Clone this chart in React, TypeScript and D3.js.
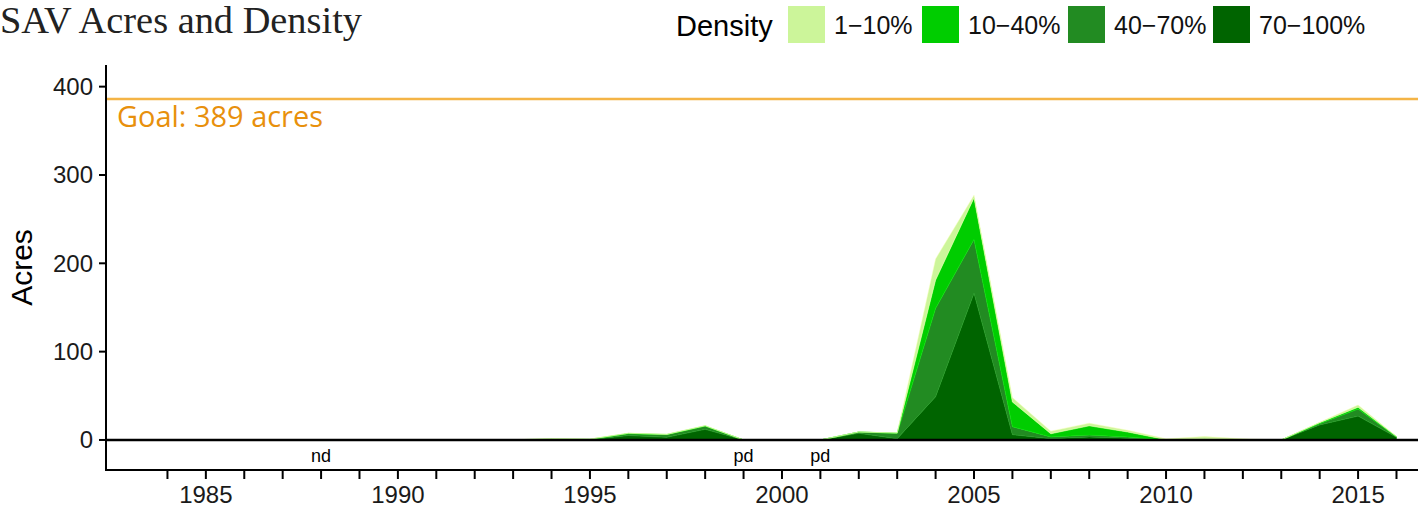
import { useEffect, useRef } from 'react';
import * as d3 from 'd3';

const WIDTH = 1426;
const HEIGHT = 510;

// per-year acres by density class
const years = [
  1984, 1985, 1986, 1987, 1988, 1989, 1990, 1991, 1992, 1993, 1994, 1995, 1996,
  1997, 1998, 1999, 2000, 2001, 2002, 2003, 2004, 2005, 2006, 2007, 2008, 2009,
  2010, 2011, 2012, 2013, 2014, 2015, 2016,
];
const dense70to100 = [
  0, 0, 0, 0, 0, 0, 0, 0, 0, 0, 0.5, 0.3, 5, 3, 12, 0, 0, 0, 7.5, 1.5, 49, 166,
  6, 1.5, 3.5, 2, 0, 0.5, 0, 0, 17, 27, 3,
];
const dense40to70 = [
  0, 0, 0, 0, 0, 0, 0, 0, 0, 0, 0.3, 0.3, 2, 3, 3.5, 0, 0, 0, 1.5, 6, 100, 61, 9,
  2, 2, 1.5, 0, 0.3, 0, 0, 1.5, 8, 0.5,
];
const dense10to40 = [
  0, 0, 0, 0, 0, 0, 0, 0, 0, 0.2, 0.5, 0.3, 0.5, 0.3, 0.5, 0, 0, 0, 0, 0.3, 32,
  47, 28, 3.5, 10.5, 5.5, 0.3, 0.5, 0.3, 0, 1, 2, 0.3,
];
const dense1to10 = [
  0, 0, 0, 0, 0, 0, 0, 0, 0, 0.2, 0.3, 0.2, 0.2, 0.2, 0.3, 0, 0, 0, 0, 0.2, 24,
  3, 5, 3, 3, 2, 1, 2.5, 1, 0, 0.5, 2.5, 0.2,
];

const densityKeys = ['70−100%', '40−70%', '10−40%', '1−10%'];
const densityColors = ['#006400', '#228B22', '#00CD00', '#CCF59A'];
const legendOrder = ['1−10%', '10−40%', '40−70%', '70−100%'];

const notes = [
  { year: 1988, label: 'nd' },
  { year: 1999, label: 'pd' },
  { year: 2001, label: 'pd' },
];

const yTicks = [0, 100, 200, 300, 400];
const xMajorTicks = [1985, 1990, 1995, 2000, 2005, 2010, 2015];
const goalLine = 386;
const goalLabel = 'Goal: 389 acres';

const PLOT = { left: 106, right: 1418, top: 65, bottom: 470 };

export default function App() {
  const svgRef = useRef<SVGSVGElement>(null);

  useEffect(() => {
    if (!svgRef.current) return;
    const svg = d3.select(svgRef.current);
    svg.selectAll('*').remove();

    const x = d3
      .scaleLinear()
      .domain([1982.4, 2016.56])
      .range([PLOT.left, PLOT.right]);
    const y = d3
      .scaleLinear()
      .domain([-34, 424.5])
      .range([PLOT.bottom, PLOT.top]);

    const rows = years.map((yr, i) => ({
      year: yr,
      '70−100%': dense70to100[i],
      '40−70%': dense40to70[i],
      '10−40%': dense10to40[i],
      '1−10%': dense1to10[i],
    }));

    const series = d3.stack<any>().keys(densityKeys)(rows);

    const area = d3
      .area<any>()
      .x((d) => x(d.data.year))
      .y0((d) => y(d[0]))
      .y1((d) => y(d[1]));

    // Stacked areas
    series.forEach((s, i) => {
      const col = densityColors[i];
      svg
        .append('path')
        .datum(s)
        .attr('d', area)
        .attr('fill', col)
        .attr('stroke', d3.color(col)!.brighter(0.5).formatHex())
        .attr('stroke-width', 0.7)
        .attr('stroke-opacity', 0.7);
    });

    // Zero line
    svg
      .append('line')
      .attr('x1', PLOT.left)
      .attr('x2', PLOT.right)
      .attr('y1', y(0))
      .attr('y2', y(0))
      .attr('stroke', '#000')
      .attr('stroke-width', 2.4);

    // Goal line
    svg
      .append('line')
      .attr('x1', PLOT.left)
      .attr('x2', PLOT.right)
      .attr('y1', y(goalLine))
      .attr('y2', y(goalLine))
      .attr('stroke', '#F4B446')
      .attr('stroke-width', 2.6);

    svg
      .append('text')
      .attr('x', 117)
      .attr('y', y(goalLine) + 28)
      .attr('font-family', '"Open Sans", sans-serif')
      .attr('font-size', 29)
      .attr('fill', '#E8900C')
      .attr('textLength', 206)
      .attr('lengthAdjust', 'spacingAndGlyphs')
      .text(goalLabel);

    // nd / pd notes
    notes.forEach((n) => {
      svg
        .append('text')
        .attr('x', x(n.year))
        .attr('y', 462)
        .attr('text-anchor', 'middle')
        .attr('font-family', '"Liberation Sans", Arial, sans-serif')
        .attr('font-size', 18)
        .attr('fill', '#000')
        .text(n.label);
    });

    // Axes
    svg
      .append('line')
      .attr('x1', PLOT.left)
      .attr('x2', PLOT.left)
      .attr('y1', PLOT.top)
      .attr('y2', PLOT.bottom + 1)
      .attr('stroke', '#000')
      .attr('stroke-width', 2);
    svg
      .append('line')
      .attr('x1', PLOT.left - 1)
      .attr('x2', PLOT.right)
      .attr('y1', PLOT.bottom)
      .attr('y2', PLOT.bottom)
      .attr('stroke', '#000')
      .attr('stroke-width', 2);

    yTicks.forEach((t) => {
      svg
        .append('line')
        .attr('x1', PLOT.left - 7)
        .attr('x2', PLOT.left)
        .attr('y1', y(t))
        .attr('y2', y(t))
        .attr('stroke', '#000')
        .attr('stroke-width', 2);
      svg
        .append('text')
        .attr('x', PLOT.left - 13)
        .attr('y', y(t) + 8.5)
        .attr('text-anchor', 'end')
        .attr('font-family', '"Liberation Sans", Arial, sans-serif')
        .attr('font-size', 24)
        .attr('fill', '#1a1a1a')
        .text(t);
    });

    years.forEach((yr) => {
      svg
        .append('line')
        .attr('x1', x(yr))
        .attr('x2', x(yr))
        .attr('y1', PLOT.bottom)
        .attr('y2', PLOT.bottom + 9)
        .attr('stroke', '#000')
        .attr('stroke-width', 2);
    });

    xMajorTicks.forEach((t) => {
      svg
        .append('text')
        .attr('x', x(t))
        .attr('y', 503)
        .attr('text-anchor', 'middle')
        .attr('font-family', '"Liberation Sans", Arial, sans-serif')
        .attr('font-size', 24)
        .attr('fill', '#1a1a1a')
        .text(t);
    });

    // Y axis title
    svg
      .append('text')
      .attr('transform', `translate(32,${(PLOT.top + PLOT.bottom) / 2}) rotate(-90)`)
      .attr('text-anchor', 'middle')
      .attr('font-family', '"Liberation Sans", Arial, sans-serif')
      .attr('font-size', 30)
      .attr('fill', '#000')
      .text('Acres');

    // Title
    svg
      .append('text')
      .attr('x', 0)
      .attr('y', 33)
      .attr('font-family', '"Liberation Serif", serif')
      .attr('font-size', 38)
      .attr('fill', '#222')
      .attr('textLength', 362)
      .attr('lengthAdjust', 'spacingAndGlyphs')
      .text('SAV Acres and Density');

    // Legend
    svg
      .append('text')
      .attr('x', 676)
      .attr('y', 36)
      .attr('font-family', '"Liberation Sans", Arial, sans-serif')
      .attr('font-size', 29)
      .attr('fill', '#000')
      .text('Density');

    const legendX = [788, 922, 1068, 1213];
    legendOrder.forEach((k, i) => {
      const col = densityColors[densityKeys.indexOf(k)];
      svg
        .append('rect')
        .attr('x', legendX[i])
        .attr('y', 6)
        .attr('width', 37)
        .attr('height', 37)
        .attr('fill', col);
      svg
        .append('text')
        .attr('x', legendX[i] + 46)
        .attr('y', 34)
        .attr('font-family', '"Liberation Sans", Arial, sans-serif')
        .attr('font-size', 25)
        .attr('fill', '#111')
        .text(k);
    });
  }, []);

  return (
    <svg
      ref={svgRef}
      width={WIDTH}
      height={HEIGHT}
      style={{ position: 'absolute', left: 0, top: 0, background: '#fff' }}
    />
  );
}
